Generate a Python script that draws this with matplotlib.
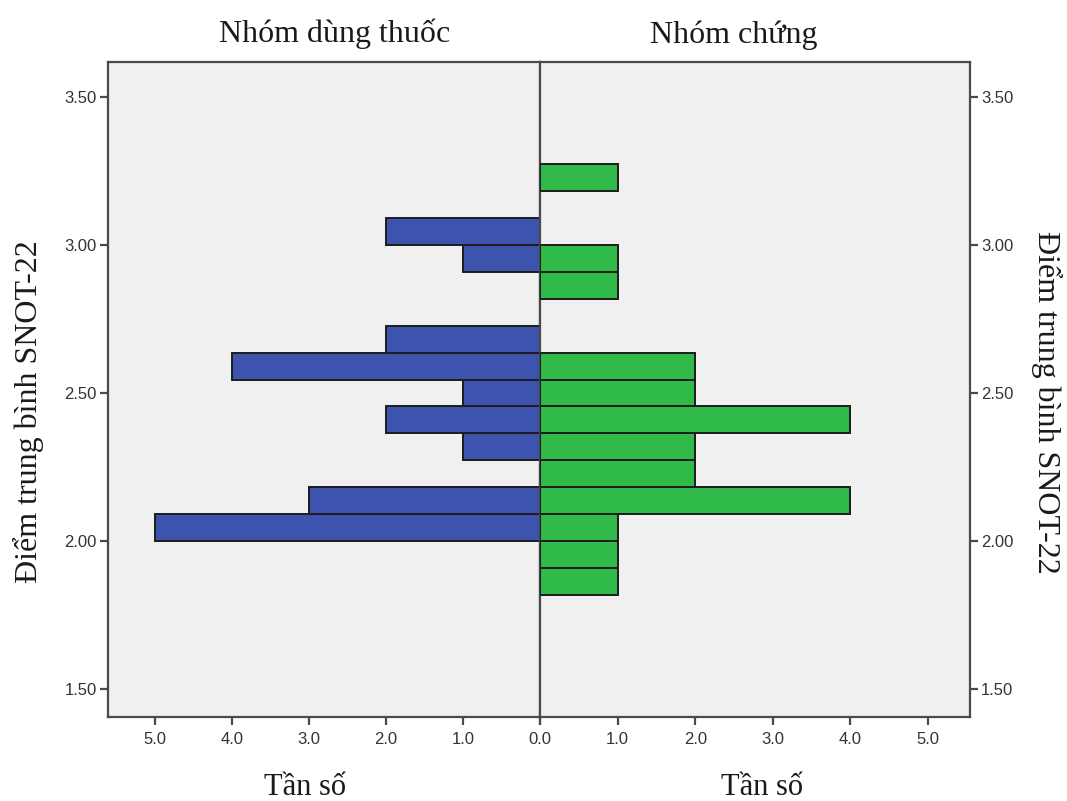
import matplotlib.pyplot as plt

# bin lower edges of the mean SNOT-22 score (bin width 1/11)
score_bins = [1.818, 1.909, 2.000, 2.091, 2.182, 2.273, 2.364, 2.455,
              2.545, 2.636, 2.727, 2.818, 2.909, 3.000, 3.091, 3.182]
bin_width = 0.0909
drug_counts = [0, 0, 5, 3, 0, 1, 2, 1, 4, 2, 0, 0, 1, 2, 0, 0]
control_counts = [1, 1, 1, 4, 2, 2, 4, 2, 2, 0, 0, 1, 1, 0, 0, 1]

y_ticks = [1.50, 2.00, 2.50, 3.00, 3.50]
x_ticks = [0, 1, 2, 3, 4, 5]

title_left = 'Nhóm dùng thuốc'
title_right = 'Nhóm chứng'
y_label = 'Điểm trung bình SNOT-22'
x_label = 'Tần số'

blue = '#3d54ae'
green = '#2fba4a'
bg = '#f0f0f0'
edge = '#1c1c1c'
spine_c = '#4a4a4a'

fig = plt.figure(figsize=(10.67, 8.01), dpi=100)
ax_l = fig.add_axes([108/1067, 1 - 717/801, 432/1067, 655/801])
ax_r = fig.add_axes([540/1067, 1 - 717/801, 430/1067, 655/801])

def draw(ax, counts, color):
    ys = [b for b, c in zip(score_bins, counts) if c > 0]
    ws = [c for c in counts if c > 0]
    ax.barh(ys, ws, height=bin_width, align='edge', color=color,
            edgecolor=edge, linewidth=1.4, zorder=3)
    ax.set_facecolor(bg)
    ax.set_ylim(1.405, 3.618)
    ax.set_xticks(x_ticks)
    ax.set_yticks(y_ticks)
    ax.set_yticklabels([f'{t:.2f}' for t in y_ticks])
    for s in ax.spines.values():
        s.set_color(spine_c)
        s.set_linewidth(1.6)
    ax.tick_params(direction='out', length=6, width=1.6, color=spine_c,
                   labelsize=12, labelcolor='#333333', pad=5)

draw(ax_l, drug_counts, blue)
draw(ax_r, control_counts, green)
ax_l.set_xticklabels([f'{t:.1f}' for t in x_ticks])
# the centre 0.0 is labelled only once
ax_r.set_xticklabels([''] + [f'{t:.1f}' for t in x_ticks[1:]])
ax_l.set_xlim(5.61, 0)
ax_r.set_xlim(0, 5.54)
ax_l.yaxis.tick_left()
ax_r.yaxis.tick_right()
ax_l.tick_params(axis='y', length=6, pad=2)
ax_r.tick_params(axis='y', length=6, pad=2)
for t in ax_l.get_yticklabels() + ax_r.get_yticklabels() + ax_l.get_xticklabels() + ax_r.get_xticklabels():
    t.set_fontfamily('Liberation Sans')

serif = 'Liberation Serif'
txt = dict(family=serif, color='#1a1a1a')
fig.text(335/1067, 1 - 42/801, title_left, ha='center', va='baseline',
         fontsize=23, **txt)
fig.text(734/1067, 1 - 43/801, title_right, ha='center', va='baseline',
         fontsize=23, **txt)
fig.text(305/1067, 1 - 795/801, x_label, ha='center', va='baseline',
         fontsize=22, **txt)
fig.text(762/1067, 1 - 795/801, x_label, ha='center', va='baseline',
         fontsize=22, **txt)
fig.text(28/1067, 1 - 412/801, y_label, ha='center', va='center',
         rotation=90, fontsize=23, **txt)
fig.text(1047/1067, 1 - 402/801, y_label, ha='center', va='center',
         rotation=270, fontsize=23, **txt)

fig.savefig('out.png', dpi=100)
